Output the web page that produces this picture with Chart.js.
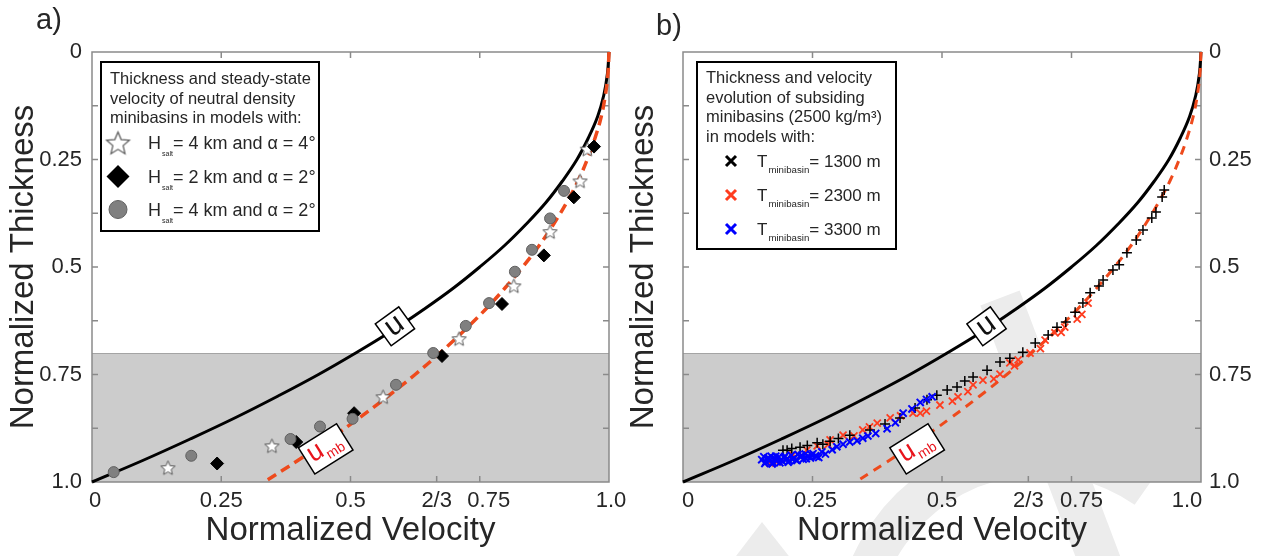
<!DOCTYPE html>
<html>
<head>
<meta charset="utf-8">
<script src="https://cdn.jsdelivr.net/npm/chart.js@4.4.1/dist/chart.umd.min.js"></script>
<style>
  html, body { margin: 0; padding: 0; background: #fff; }
  #wrap { position: relative; width: 1266px; height: 556px; overflow: hidden; }
  canvas { position: absolute; top: 0; }
  #chartA { left: 0; }
  #chartB { left: 620px; }
</style>
</head>
<body>
<div id="wrap">
  <canvas id="chartA" width="634" height="556"></canvas>
  <canvas id="chartB" width="646" height="556"></canvas>
</div>
<script>
// ---- values ----
// thickness levels where the two theory curves were read
const curveH   = [0, 0.05, 0.1, 0.15, 0.2, 0.25, 0.3, 0.35, 0.4, 0.45, 0.5, 0.55, 0.6, 0.65, 0.7, 0.75, 0.8, 0.85, 0.9, 0.95, 1.0];
const uCurve   = [1.0, 0.997, 0.99, 0.978, 0.96, 0.938, 0.91, 0.878, 0.84, 0.798, 0.75, 0.698, 0.64, 0.578, 0.51, 0.438, 0.36, 0.278, 0.19, 0.098, 0.0];
const umbCurve = [1.0, 0.998, 0.993, 0.985, 0.973, 0.958, 0.94, 0.918, 0.893, 0.865, 0.833, 0.798, 0.76, 0.718, 0.673, 0.625, 0.573, 0.518, 0.46, 0.398, 0.333];
const shadeFrom = 0.7;

const xTickVals   = [0, 0.25, 0.5, 2 / 3, 0.75, 1];
const xTickLabels = ['0', '0.25', '0.5', '2/3', '0.75', '1.0'];
const yTickVals   = [0, 0.25, 0.5, 0.75, 1];
const yTickLabels = ['0', '0.25', '0.5', '0.75', '1.0'];
const yMinorTicks = [0.125, 0.25, 0.375, 0.5, 0.625, 0.75, 0.875];
const xBottomTicks = [0.25, 0.5, 2 / 3, 0.75];
const xTopTicks = [0.25, 0.5, 0.75];

// panel a: neutral density minibasins
const starU    = [0.147, 0.348, 0.563, 0.710, 0.816, 0.886, 0.944, 0.958];
const starH    = [0.967, 0.916, 0.802, 0.667, 0.544, 0.418, 0.300, 0.226];
const diamondU = [0.242, 0.395, 0.507, 0.677, 0.793, 0.874, 0.932, 0.971];
const diamondH = [0.957, 0.907, 0.840, 0.707, 0.586, 0.473, 0.338, 0.220];
const circleU  = [0.042, 0.192, 0.384, 0.441, 0.504, 0.588, 0.660, 0.723, 0.768, 0.818, 0.851, 0.886, 0.913];
const circleH  = [0.977, 0.939, 0.900, 0.871, 0.853, 0.774, 0.700, 0.637, 0.584, 0.511, 0.460, 0.387, 0.323];

// panel b: subsiding minibasins
const blackU = [0.193, 0.201, 0.21, 0.226, 0.24, 0.259, 0.27, 0.284, 0.30, 0.322, 0.361, 0.390, 0.419, 0.448, 0.471, 0.490, 0.510, 0.529, 0.544, 0.560, 0.587, 0.612, 0.631, 0.656, 0.680, 0.705, 0.722, 0.739, 0.757, 0.772, 0.786, 0.803, 0.811, 0.830, 0.842, 0.857, 0.875, 0.888, 0.905, 0.913, 0.925, 0.929];
const blackH = [0.926, 0.926, 0.922, 0.919, 0.915, 0.909, 0.912, 0.905, 0.899, 0.891, 0.879, 0.865, 0.851, 0.828, 0.809, 0.798, 0.786, 0.779, 0.765, 0.756, 0.740, 0.721, 0.712, 0.698, 0.677, 0.658, 0.640, 0.628, 0.605, 0.584, 0.560, 0.544, 0.530, 0.507, 0.495, 0.467, 0.437, 0.414, 0.386, 0.372, 0.337, 0.321];
const redU = [0.168, 0.181, 0.212, 0.239, 0.259, 0.28, 0.284, 0.309, 0.33, 0.347, 0.36, 0.375, 0.400, 0.42, 0.444, 0.458, 0.47, 0.496, 0.52, 0.531, 0.55, 0.560, 0.579, 0.60, 0.612, 0.631, 0.64, 0.647, 0.670, 0.69, 0.699, 0.718, 0.73, 0.737, 0.761, 0.77, 0.782];
const redH = [0.956, 0.953, 0.937, 0.926, 0.916, 0.913, 0.902, 0.891, 0.893, 0.879, 0.872, 0.863, 0.851, 0.846, 0.840, 0.840, 0.835, 0.821, 0.812, 0.802, 0.790, 0.774, 0.763, 0.760, 0.749, 0.723, 0.730, 0.716, 0.700, 0.690, 0.670, 0.653, 0.652, 0.640, 0.621, 0.610, 0.584];
const blueU = [0.152, 0.156, 0.160, 0.163, 0.167, 0.170, 0.174, 0.178, 0.181, 0.185, 0.189, 0.193, 0.197, 0.201, 0.205, 0.209, 0.214, 0.218, 0.222, 0.227, 0.232, 0.236, 0.241, 0.246, 0.251, 0.256, 0.262, 0.268, 0.275,
               0.158, 0.165, 0.172, 0.179, 0.187, 0.195, 0.203, 0.211, 0.220, 0.229, 0.238, 0.248, 0.258,
               0.288, 0.297, 0.309, 0.322, 0.336, 0.347, 0.357, 0.372, 0.394, 0.410, 0.425, 0.442, 0.458, 0.470, 0.481];
const blueH = [0.948, 0.941, 0.953, 0.945, 0.950, 0.940, 0.955, 0.946, 0.951, 0.942, 0.948, 0.953, 0.940, 0.946, 0.951, 0.938, 0.944, 0.949, 0.936, 0.942, 0.947, 0.935, 0.940, 0.944, 0.934, 0.939, 0.943, 0.930, 0.935,
               0.957, 0.944, 0.958, 0.940, 0.955, 0.943, 0.954, 0.947, 0.950, 0.938, 0.946, 0.937, 0.941,
               0.925, 0.918, 0.912, 0.907, 0.904, 0.898, 0.893, 0.887, 0.876, 0.862, 0.840, 0.830, 0.815, 0.808, 0.802];

// label anchors on the curves
const uLabelPos = { x: 0.586, y: 0.638 };
const umbLabelPos = { x: 0.452, y: 0.923 };

const legendTitleA = ['Thickness and steady-state', 'velocity of neutral density', 'minibasins in models with:'];
const legendEntriesA = ['= 4 km and \u03b1 = 4\u00b0', '= 2 km and \u03b1 = 2\u00b0', '= 4 km and \u03b1 = 2\u00b0'];
const legendTitleB = ['Thickness and velocity', 'evolution of subsiding', 'minibasins (2500 kg/m\u00b3)', 'in models with:'];
const legendEntriesB = ['= 1300 m', '= 2300 m', '= 3300 m'];

const FF = '"Liberation Sans", Arial, Helvetica, sans-serif';
const TXT = '#262626';
const RED_LINE = '#ee4a1c';
const OXB = 620; // page offset of second canvas

function pts(us, hs) {
  return us.map((u, i) => ({ x: u, y: hs[i] }));
}

function starImage(r, lw) {
  const c = document.createElement('canvas');
  const s = Math.ceil(2 * r + 2 * lw + 2);
  c.width = c.height = s;
  const g = c.getContext('2d');
  g.translate(s / 2, s / 2 + r * 0.08);
  g.beginPath();
  for (let i = 0; i < 10; i++) {
    const rr = i % 2 ? r * 0.45 : r;
    const a = -Math.PI / 2 + i * Math.PI / 5;
    g.lineTo(rr * Math.cos(a), rr * Math.sin(a));
  }
  g.closePath();
  g.fillStyle = '#fff';
  g.fill();
  g.strokeStyle = '#555';
  g.lineWidth = lw;
  g.stroke();
  return c;
}
const starSmall = starImage(7.5, 1);
const starBig = starImage(12, 1.2);

// gray band, frame and inward ticks
function drawFrame(chart) {
  const { ctx, chartArea: a, scales } = chart;
  const x = scales.x, y = scales.y;
  const top = y.getPixelForValue(shadeFrom), bot = y.getPixelForValue(1);
  ctx.save();
  ctx.fillStyle = '#cccccc';
  ctx.fillRect(a.left, top, a.right - a.left, bot - top);
  ctx.strokeStyle = '#a4a4a4';
  ctx.lineWidth = 1;
  ctx.beginPath();
  ctx.moveTo(a.left, top + 0.5);
  ctx.lineTo(a.right, top + 0.5);
  ctx.stroke();

  ctx.strokeStyle = '#8a8a8a';
  ctx.lineWidth = 1.5;
  ctx.strokeRect(a.left, a.top, a.right - a.left, a.bottom - a.top);
  ctx.beginPath();
  yMinorTicks.forEach(v => {
    const p = y.getPixelForValue(v);
    ctx.moveTo(a.left, p); ctx.lineTo(a.left + 6, p);
    ctx.moveTo(a.right, p); ctx.lineTo(a.right - 6, p);
  });
  xBottomTicks.forEach(v => {
    const p = x.getPixelForValue(v);
    ctx.moveTo(p, a.bottom); ctx.lineTo(p, a.bottom - 6);
  });
  xTopTicks.forEach(v => {
    const p = x.getPixelForValue(v);
    ctx.moveTo(p, a.top); ctx.lineTo(p, a.top + 6);
  });
  ctx.stroke();
  ctx.restore();
}

function drawXLabels(chart, shifts) {
  const { ctx, chartArea: a, scales: { x } } = chart;
  ctx.save();
  ctx.fillStyle = TXT;
  ctx.font = '22px ' + FF;
  ctx.textAlign = 'center';
  ctx.textBaseline = 'middle';
  xTickVals.forEach((v, i) => {
    ctx.fillText(xTickLabels[i], x.getPixelForValue(v) + shifts[i], a.bottom + 19);
  });
  ctx.restore();
}

function labelBox(chart, pos, w, h, ang, drawText) {
  const { ctx, scales: { x, y } } = chart;
  ctx.save();
  ctx.translate(x.getPixelForValue(pos.x), y.getPixelForValue(pos.y));
  ctx.rotate(ang * Math.PI / 180);
  ctx.fillStyle = '#fff';
  ctx.fillRect(-w / 2, -h / 2, w, h);
  ctx.strokeStyle = '#000';
  ctx.lineWidth = 1.5;
  ctx.strokeRect(-w / 2, -h / 2, w, h);
  drawText(ctx);
  ctx.restore();
}

function drawCurveLabels(chart) {
  labelBox(chart, uLabelPos, 29, 27, -36, ctx => {
    ctx.fillStyle = '#111';
    ctx.font = '30px ' + FF;
    ctx.textAlign = 'center';
    ctx.fillText('u', 0, 7.5);
  });
  labelBox(chart, umbLabelPos, 45, 31, -32, ctx => {
    ctx.fillStyle = '#e8141c';
    ctx.font = '27px ' + FF;
    ctx.textAlign = 'left';
    ctx.fillText('u', -18, 5);
    const w = ctx.measureText('u').width;
    ctx.font = '14px ' + FF;
    ctx.fillText('mb', -18 + w + 1, 11);
  });
}

function subText(ctx, x, y, main, sub, rest, size, subSize, drop) {
  ctx.font = size + 'px ' + FF;
  ctx.fillText(main, x, y);
  const w1 = ctx.measureText(main).width;
  ctx.font = subSize + 'px ' + FF;
  ctx.fillText(sub, x + w1 + 1, y + drop);
  const w2 = ctx.measureText(sub).width;
  ctx.font = size + 'px ' + FF;
  ctx.fillText(rest, x + w1 + w2 + 1, y);
}

function lineSets(lw, dash) {
  return [
    { label: 'u', data: pts(uCurve, curveH), showLine: true, pointRadius: 0, borderColor: '#000', borderWidth: 3, tension: 0.4, order: 11, clip: 6 },
    { label: 'u_mb', data: pts(umbCurve, curveH), showLine: true, pointRadius: 0, borderColor: RED_LINE, borderWidth: lw, borderDash: dash, tension: 0.4, order: 10, clip: 6 }
  ];
}

function xScale() {
  return {
    type: 'linear', position: 'bottom', min: 0, max: 1,
    grid: { display: false, drawTicks: false }, border: { display: false },
    ticks: { display: false },
    afterFit: s => { s.height = 74; },
    title: { display: true, text: 'Normalized Velocity', color: TXT, font: { family: FF, size: 33 }, padding: { top: 0, bottom: 5 } }
  };
}

const common = {
  responsive: false,
  animation: false,
  events: [],
  plugins: { legend: { display: false }, tooltip: { enabled: false } }
};

// ---------------- panel a ----------------
new Chart(document.getElementById('chartA'), {
  type: 'scatter',
  data: {
    datasets: [
      { label: 'Hsalt 4 km, 4 deg', data: pts(starU, starH), pointStyle: starSmall, pointRadius: 7, order: 3 },
      { label: 'Hsalt 2 km, 2 deg', data: pts(diamondU, diamondH), pointStyle: 'rectRot', pointRadius: 6.5, backgroundColor: '#000', borderColor: '#000', borderWidth: 1, order: 2 },
      { label: 'Hsalt 4 km, 2 deg', data: pts(circleU, circleH), pointStyle: 'circle', pointRadius: 5.5, backgroundColor: '#808080', borderColor: '#606060', borderWidth: 1, order: 1 },
      ...lineSets(3.5, [10, 6])
    ]
  },
  options: {
    ...common,
    layout: { padding: { top: 52, right: 25, left: 0, bottom: 0 } },
    scales: {
      x: xScale(),
      y: {
        type: 'linear', position: 'left', min: 0, max: 1, reverse: true,
        grid: { display: false, drawTicks: false }, border: { display: false },
        afterBuildTicks: s => { s.ticks = yTickVals.map(v => ({ value: v })); },
        afterFit: s => { s.width = 92; },
        ticks: { autoSkip: false, padding: 10, color: TXT, font: { family: FF, size: 22 }, callback: (v, i) => yTickLabels[i] },
        title: { display: true, text: 'Normalized Thickness', color: TXT, font: { family: FF, size: 33 }, padding: { top: 4, bottom: 0 } }
      }
    }
  },
  plugins: [{
    id: 'panelA',
    beforeDatasetsDraw: drawFrame,
    afterDatasetsDraw(chart) {
      drawCurveLabels(chart);
      drawXLabels(chart, [3, 0, 0, 0, 9, 2]);
      const ctx = chart.ctx;
      ctx.save();
      ctx.fillStyle = TXT;
      ctx.font = '29px ' + FF;
      ctx.fillText('a)', 36, 29);
      // legend box
      ctx.fillStyle = '#fff';
      ctx.fillRect(101, 62, 218, 169);
      ctx.strokeStyle = '#000';
      ctx.lineWidth = 2;
      ctx.strokeRect(101, 62, 218, 169);
      ctx.fillStyle = TXT;
      ctx.font = '16.5px ' + FF;
      legendTitleA.forEach((t, i) => ctx.fillText(t, 110, 84 + i * 19.5));
      ctx.drawImage(starBig, 118 - starBig.width / 2, 143 - starBig.height / 2);
      ctx.fillStyle = '#000';
      ctx.beginPath();
      ctx.moveTo(118, 165); ctx.lineTo(129.5, 176.5); ctx.lineTo(118, 188); ctx.lineTo(106.5, 176.5);
      ctx.closePath(); ctx.fill();
      ctx.fillStyle = '#808080';
      ctx.strokeStyle = '#606060';
      ctx.lineWidth = 1;
      ctx.beginPath(); ctx.arc(118, 209.5, 9, 0, Math.PI * 2); ctx.fill(); ctx.stroke();
      ctx.fillStyle = TXT;
      legendEntriesA.forEach((t, i) => subText(ctx, 148, 149 + i * 33.5, 'H', 'salt', t, 18, 7, 7));
      ctx.restore();
    }
  }]
});

// ---------------- panel b ----------------
const crossStyle = (c, r, w) => ({ pointRadius: r, borderWidth: w, borderColor: c, backgroundColor: c });

new Chart(document.getElementById('chartB'), {
  type: 'scatter',
  data: {
    datasets: [
      { label: 'T 3300 m', data: pts(blueU, blueH), pointStyle: 'crossRot', ...crossStyle('#0000ff', 5, 2), order: 1 },
      { label: 'T 1300 m', data: pts(blackU, blackH), pointStyle: 'cross', ...crossStyle('#000000', 5, 1.5), order: 2 },
      { label: 'T 2300 m', data: pts(redU, redH), pointStyle: 'crossRot', ...crossStyle('#ff3c1e', 5, 1.8), order: 3 },
      ...lineSets(3, [9, 7])
    ]
  },
  options: {
    ...common,
    layout: { padding: { top: 52, right: 0, left: 0, bottom: 0 } },
    scales: {
      x: xScale(),
      y: {
        type: 'linear', position: 'right', min: 0, max: 1, reverse: true,
        grid: { display: false, drawTicks: false }, border: { display: false },
        afterBuildTicks: s => { s.ticks = yTickVals.map(v => ({ value: v })); },
        afterFit: s => { s.width = 65; },
        ticks: { autoSkip: false, padding: 8, color: TXT, font: { family: FF, size: 22 }, callback: (v, i) => yTickLabels[i] }
      },
      yl: {
        type: 'linear', position: 'left', min: 0, max: 1, reverse: true,
        grid: { display: false, drawTicks: false }, border: { display: false },
        ticks: { display: false },
        afterFit: s => { s.width = 63; },
        title: { display: true, text: 'Normalized Thickness', color: TXT, font: { family: FF, size: 33 }, padding: { top: 4, bottom: 0 } }
      }
    }
  },
  plugins: [{
    id: 'panelB',
    beforeDraw(chart) {
      // faint watermark behind the plot
      const ctx = chart.ctx;
      ctx.save();
      ctx.translate(-OXB, 0);
      ctx.strokeStyle = ctx.fillStyle = '#ececec';
      ctx.lineWidth = 42;
      ctx.beginPath(); ctx.moveTo(1000, 298); ctx.lineTo(1103, 570); ctx.stroke();
      ctx.lineWidth = 40;
      ctx.beginPath(); ctx.arc(1040, 640, 185, -55 * Math.PI / 180, 150 * Math.PI / 180, true); ctx.stroke();
      ctx.beginPath(); ctx.moveTo(733, 560); ctx.lineTo(762, 522); ctx.lineTo(792, 560); ctx.closePath(); ctx.fill();
      ctx.restore();
    },
    beforeDatasetsDraw: drawFrame,
    afterDatasetsDraw(chart) {
      drawCurveLabels(chart);
      drawXLabels(chart, [5, 3, 0, 0, 10, -14]);
      const ctx = chart.ctx;
      ctx.save();
      ctx.translate(-OXB, 0);
      ctx.fillStyle = TXT;
      ctx.font = '29px ' + FF;
      ctx.fillText('b)', 656, 35);
      ctx.fillStyle = '#fff';
      ctx.fillRect(697, 62, 199, 187);
      ctx.strokeStyle = '#000';
      ctx.lineWidth = 2;
      ctx.strokeRect(697, 62, 199, 187);
      ctx.fillStyle = TXT;
      ctx.font = '16.5px ' + FF;
      legendTitleB.forEach((t, i) => ctx.fillText(t, 706, 83.3 + i * 19.5));
      ['#000000', '#ff3c1e', '#0000ff'].forEach((c, i) => {
        const cy = 161 + i * 34;
        ctx.strokeStyle = c;
        ctx.lineWidth = 3;
        ctx.beginPath();
        ctx.moveTo(726, cy - 5); ctx.lineTo(736, cy + 5);
        ctx.moveTo(736, cy - 5); ctx.lineTo(726, cy + 5);
        ctx.stroke();
      });
      ctx.fillStyle = TXT;
      legendEntriesB.forEach((t, i) => subText(ctx, 757, 167.3 + i * 34, 'T', 'minibasin', t, 17, 9.7, 6));
      ctx.restore();
    }
  }]
});
</script>
</body>
</html>
